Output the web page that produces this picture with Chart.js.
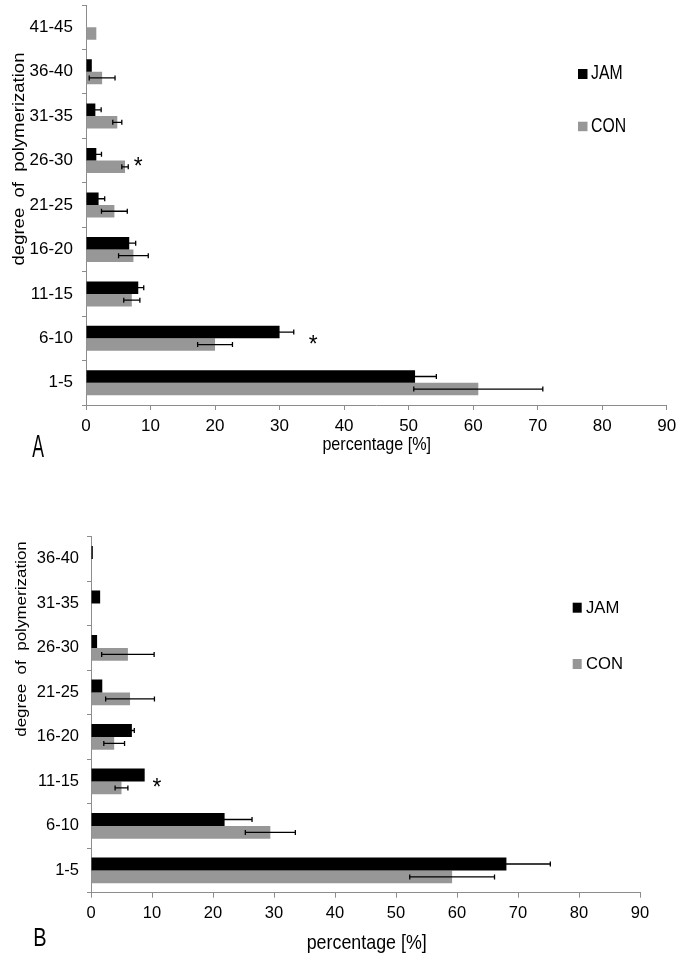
<!DOCTYPE html>
<html><head><meta charset="utf-8">
<script src="https://cdn.jsdelivr.net/npm/chart.js@4/dist/chart.umd.min.js"></script>
<style>
html,body{margin:0;padding:0;background:#fff;}
.wrap{position:absolute;left:0;width:680px;height:480px;}
canvas{display:block;}
</style></head><body>
<div class="wrap" style="top:0"><canvas id="cA"></canvas></div>
<div class="wrap" style="top:480px"><canvas id="cB"></canvas></div>
<script>
// ---------- Data (panel A) ----------
const categoriesA = ['41-45','36-40','31-35','26-30','21-25','16-20','11-15','6-10','1-5'];
const jamA    = [0, 0.9, 1.45, 1.6, 1.95, 6.7, 8.1, 30.0, 51.0];
const jamErrA = [0, 0, 0.9, 0.8, 0.95, 1.0, 0.85, 2.2, 3.3];
const conA    = [1.6, 2.5, 4.85, 6.05, 4.4, 7.35, 7.1, 20.0, 60.8];
const conErrA = [0, 2.0, 0.7, 0.5, 2.0, 2.3, 1.25, 2.7, 10.0];
const starCatsA = ['26-30', '6-10'];
const starXA    = [8.1, 35.2];

// ---------- Data (panel B) ----------
const categoriesB = ['36-40','31-35','26-30','21-25','16-20','11-15','6-10','1-5'];
const jamB    = [0.3, 1.5, 1.0, 1.85, 6.7, 8.8, 21.9, 68.1];
const jamErrB = [0, 0, 0, 0, 0.4, 0, 4.5, 7.2];
const conB    = [0, 0, 6.05, 6.4, 3.8, 5.0, 29.4, 59.2];
const conErrB = [0, 0, 4.3, 4.0, 1.7, 1.05, 4.1, 6.95];
const starCatsB = ['11-15'];
const starXB    = [10.8];

const xTickValues = [0, 10, 20, 30, 40, 50, 60, 70, 80, 90];
const seriesNames = ['JAM', 'CON'];
const seriesColors = ['#000000', '#979797'];

const AXIS = '#8c8c8c';
const NARROW = "'Liberation Sans Narrow', 'Arial Narrow', 'Liberation Sans', Arial, sans-serif";
const SANS = "'Liberation Sans', Arial, sans-serif";

function txt(ctx, s, x, y, size, sx, opt) {
  opt = opt || {};
  ctx.save();
  ctx.translate(x, y);
  if (opt.rot) { ctx.rotate(opt.rot); ctx.scale(1, sx); } else { ctx.scale(sx, 1); }
  ctx.font = size + 'px ' + SANS;
  ctx.textAlign = opt.align || 'center';
  ctx.textBaseline = opt.base || 'middle';
  ctx.fillStyle = '#000';
  ctx.fillText(s, 0, 0);
  ctx.restore();
}

function makeExtras(cfg) {
  return {
    id: 'extras',
    afterDatasetsDraw(chart) {
      const ctx = chart.ctx, xs = chart.scales.x, ys = chart.scales.y;
      // error bars
      cfg.errors.forEach((errs, di) => {
        const meta = chart.getDatasetMeta(di);
        const vals = chart.data.datasets[di].data;
        meta.data.forEach((bar, i) => {
          const e = errs[i];
          if (!e) return;
          const x1 = xs.getPixelForValue(vals[i] - e);
          const x2 = xs.getPixelForValue(vals[i] + e);
          const y = bar.y;
          ctx.save();
          ctx.beginPath();
          ctx.moveTo(x1, y); ctx.lineTo(x2, y);
          ctx.moveTo(x1, y - 2.5); ctx.lineTo(x1, y + 2.5);
          ctx.moveTo(x2, y - 2.5); ctx.lineTo(x2, y + 2.5);
          ctx.strokeStyle = '#000';
          ctx.lineWidth = 1.3;
          ctx.stroke();
          ctx.restore();
        });
      });
      // significance stars
      cfg.starCats.forEach((c, k) => {
        const idx = chart.data.labels.indexOf(c);
        const cy = ys.getPixelForValue(idx);
        const cx = xs.getPixelForValue(cfg.starX[k]);
        txt(ctx, '*', cx, cy + 13.5, 24, 0.95, {base: 'alphabetic'});
      });
      // legend
      cfg.legend.forEach((L, i) => {
        ctx.fillStyle = seriesColors[i];
        ctx.fillRect(L.bx, L.by, L.bw, L.bh);
        txt(ctx, seriesNames[i], L.tx, L.ty, cfg.legendSize, cfg.legendSx, {align: 'left'});
      });
      // titles
      txt(ctx, 'percentage [%]', cfg.xTitle.x, cfg.xTitle.y, cfg.xTitle.size, 0.85);
      txt(ctx, 'degree  of  polymerization', cfg.yTitle.x, cfg.yTitle.y, cfg.yTitle.size, 0.9, {rot: -Math.PI / 2});
      txt(ctx, cfg.panel.text, cfg.panel.x, cfg.panel.y, cfg.panel.size, cfg.panel.sx);
    }
  };
}

function makeChart(id, cats, jam, con, cfg) {
  const ctx = document.getElementById(id);
  return new Chart(ctx, {
    type: 'bar',
    data: {
      labels: cats,
      datasets: [
        {label: seriesNames[0], data: jam, backgroundColor: seriesColors[0], borderWidth: 0,
         categoryPercentage: cfg.catPct, barPercentage: 1.0},
        {label: seriesNames[1], data: con, backgroundColor: seriesColors[1], borderWidth: 0,
         categoryPercentage: cfg.catPct, barPercentage: 1.0}
      ]
    },
    options: {
      indexAxis: 'y',
      responsive: false,
      animation: false,
      devicePixelRatio: 1,
      layout: {autoPadding: false, padding: cfg.pad},
      plugins: {legend: {display: false}, tooltip: {enabled: false}, title: {display: false}},
      scales: {
        x: {
          type: 'linear', min: 0, max: 90,
          afterBuildTicks: (s) => { s.ticks = xTickValues.map(v => ({value: v})); },
          afterFit: (s) => { s.height = cfg.xH; s.paddingLeft = 0; s.paddingRight = 0; },
          grid: {drawOnChartArea: false, drawTicks: true, tickLength: 5, color: AXIS, lineWidth: 1},
          border: {color: AXIS, width: 1},
          ticks: {color: '#000', padding: cfg.xPad, maxRotation: 0, autoSkip: false,
                  font: {family: NARROW, size: cfg.tickSize}}
        },
        y: {
          type: 'category',
          afterFit: (s) => { s.width = cfg.yW; s.paddingTop = 0; s.paddingBottom = 0; },
          grid: {drawOnChartArea: false, drawTicks: true, tickLength: 4, offset: true, color: AXIS, lineWidth: 1},
          border: {color: AXIS, width: 1},
          ticks: {color: '#000', padding: cfg.yPad, autoSkip: false,
                  font: {family: NARROW, size: cfg.ytickSize}}
        }
      }
    },
    plugins: [makeExtras(cfg)]
  });
}

function sizeCanvas(id) {
  const c = document.getElementById(id);
  c.width = 680; c.height = 480;
  c.style.width = '680px'; c.style.height = '480px';
}
sizeCanvas('cA'); sizeCanvas('cB');

makeChart('cA', categoriesA, jamA, conA, {
  catPct: 0.563,
  pad: {top: 5, right: 13.3, left: 0, bottom: 0},
  xH: 75, yW: 86, xPad: 6, yPad: 9, tickSize: 17, ytickSize: 17,
  errors: [jamErrA, conErrA],
  starCats: starCatsA, starX: starXA,
  legend: [
    {bx: 578, by: 69, bw: 9.5, bh: 10, tx: 591, ty: 74},
    {bx: 578, by: 121.7, bw: 9.5, bh: 9.5, tx: 591, ty: 126.5}
  ],
  legendSize: 19.5, legendSx: 0.81,
  xTitle: {x: 376.7, y: 445, size: 19},
  yTitle: {x: 19, y: 159, size: 18.5},
  panel: {text: 'A', x: 38, y: 448, size: 32, sx: 0.55}
});

makeChart('cB', categoriesB, jamB, conB, {
  catPct: 0.578,
  pad: {top: 56.7, right: 40, left: 0, bottom: 0},
  xH: 67.3, yW: 91, xPad: 5.5, yPad: 8, tickSize: 16.5, ytickSize: 16.5,
  errors: [jamErrB, conErrB],
  starCats: starCatsB, starX: starXB,
  legend: [
    {bx: 572.7, by: 122.7, bw: 9, bh: 10, tx: 586, ty: 128},
    {bx: 572.7, by: 179, bw: 9, bh: 10, tx: 586, ty: 184}
  ],
  legendSize: 17, legendSx: 0.98,
  xTitle: {x: 366.7, y: 463, size: 21},
  yTitle: {x: 22, y: 159, size: 17},
  panel: {text: 'B', x: 40, y: 459, size: 25, sx: 0.8}
});
</script>
</body></html>
